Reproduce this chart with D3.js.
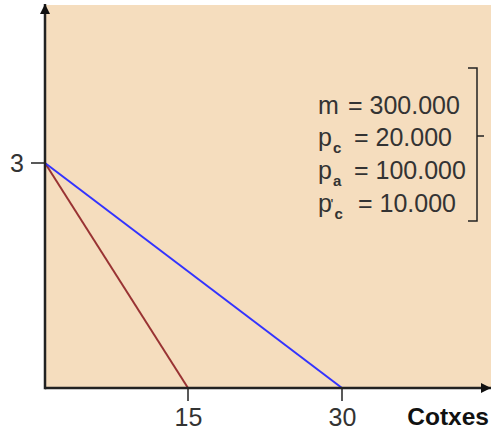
<!DOCTYPE html>
<html><head><meta charset="utf-8">
<script src="https://cdn.jsdelivr.net/npm/d3@7/dist/d3.min.js"></script>
<style>html,body{margin:0;padding:0;background:#fff;}svg{display:block;}</style>
</head><body>
<script>
const xTicks = [15, 30];
const yTicks = [3];
const xLabel = "Cotxes";
const seriesNames = ["original", "nou"];
const interceptY = [3, 3];
const interceptX = [15, 30];
const seriesColors = ["#993333", "#3333ff"];
const paramLines = [
  {base: "m", sub: "", prime: false, value: "= 300.000"},
  {base: "p", sub: "c", prime: false, value: "= 20.000"},
  {base: "p", sub: "a", prime: false, value: "= 100.000"},
  {base: "p", sub: "c", prime: true, value: "= 10.000"}
];

const W = 491, H = 434;
const svg = d3.select("body").append("svg").attr("width", W).attr("height", H);

const x0 = 45, xEnd = 491, yBot = 388, yTop = 5;
const x = d3.scaleLinear().domain([0, 15, 30]).range([x0, 188, 342]);
const y = d3.scaleLinear().domain([0, 3]).range([yBot, 163]);

svg.append("rect").attr("x", x0).attr("y", yTop).attr("width", xEnd - x0).attr("height", yBot - yTop)
  .attr("fill", "#f5ddbe");

const defs = svg.append("defs");
defs.append("marker").attr("id", "arr").attr("viewBox", "0 0 10 10").attr("refX", 10).attr("refY", 5)
  .attr("markerWidth", 10).attr("markerHeight", 10).attr("markerUnits", "userSpaceOnUse").attr("orient", "auto")
  .append("path").attr("d", "M0,0 L10,5 L0,10 Z").attr("fill", "#111");

// budget lines
seriesNames.forEach((n, i) => {
  svg.append("line")
    .attr("x1", x(0)).attr("y1", y(interceptY[i]))
    .attr("x2", x(interceptX[i])).attr("y2", y(0))
    .attr("stroke", seriesColors[i]).attr("stroke-width", 2);
});

// axes
svg.append("line").attr("x1", x0).attr("y1", yBot).attr("x2", xEnd).attr("y2", yBot)
  .attr("stroke", "#222").attr("stroke-width", 2.5).attr("marker-end", "url(#arr)");
svg.append("line").attr("x1", x0).attr("y1", yBot + 1.2).attr("x2", x0).attr("y2", 4)
  .attr("stroke", "#222").attr("stroke-width", 2.5).attr("marker-end", "url(#arr)");

const font = "Liberation Sans, Arial, sans-serif";
// x ticks
xTicks.forEach(t => {
  svg.append("line").attr("x1", x(t)).attr("x2", x(t)).attr("y1", yBot).attr("y2", yBot + 13)
    .attr("stroke", "#222").attr("stroke-width", 1.5);
  svg.append("text").attr("x", x(t) + 0.5).attr("y", 426).attr("text-anchor", "middle")
    .attr("font-family", font).attr("font-size", 25).attr("fill", "#333").text(t);
});
svg.append("text").attr("x", 489).attr("y", 425).attr("text-anchor", "end")
  .attr("font-family", font).attr("font-size", 24.5).attr("font-weight", "bold").attr("fill", "#111").text(xLabel);

// y ticks
yTicks.forEach(t => {
  svg.append("line").attr("x1", 31).attr("x2", x0).attr("y1", y(t)).attr("y2", y(t))
    .attr("stroke", "#222").attr("stroke-width", 1.5);
  svg.append("text").attr("x", 17).attr("y", y(t) + 9).attr("text-anchor", "middle")
    .attr("font-family", font).attr("font-size", 25).attr("fill", "#333").text(t);
});

// parameter box
const baselines = [114, 146, 179, 212];
paramLines.forEach((p, i) => {
  const t = svg.append("text").attr("y", baselines[i])
    .attr("font-family", font).attr("font-size", 25).attr("fill", "#333");
  t.append("tspan").attr("x", 318).text(p.base);
  if (p.prime) {
    t.append("tspan").attr("x", 330.5).attr("dy", -3).attr("font-size", 15).text("'");
  }
  if (p.sub) {
    t.append("tspan").attr("x", p.prime ? 334.5 : 333).attr("y", baselines[i] + 7)
      .attr("font-size", 15).attr("font-weight", "bold").text(p.sub);
  }
  const vx = p.base === "m" ? 348 : (p.prime ? 358 : 354);
  t.append("tspan").attr("x", vx).attr("y", baselines[i]).text(p.value);
});

// bracket
svg.append("path").attr("d", "M468,68 H477 V221 H468 M477,136 H484")
  .attr("fill", "none").attr("stroke", "#222").attr("stroke-width", 1.5);
</script>
</body></html>
